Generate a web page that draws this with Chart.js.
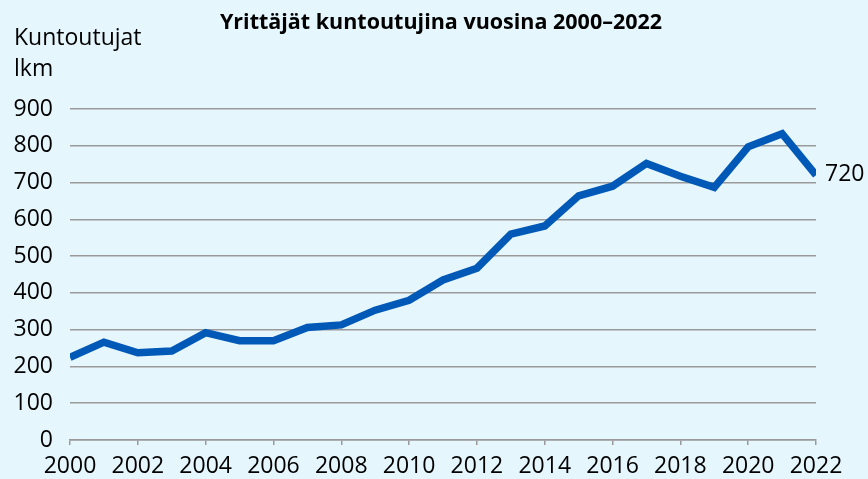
<!DOCTYPE html>
<html lang="fi">
<head>
<meta charset="utf-8">
<title>Yrittäjät kuntoutujina vuosina 2000–2022</title>
<script src="https://cdn.jsdelivr.net/npm/chart.js@4/dist/chart.umd.min.js"></script>
<style>
  html, body { margin: 0; padding: 0; background: #e6f6fd; }
  #wrap { width: 868px; height: 479px; position: relative; }
</style>
</head>
<body>
<div id="wrap"><canvas id="chart" width="868" height="479"></canvas></div>
<script>
// ─── DATA ─────────────────────────────────────────────────────
const years = [2000, 2001, 2002, 2003, 2004, 2005, 2006, 2007, 2008, 2009, 2010,
               2011, 2012, 2013, 2014, 2015, 2016, 2017, 2018, 2019, 2020, 2021, 2022];
const rehabCount = [225, 266, 237, 242, 292, 270, 270, 306, 313, 353, 380,
                    435, 467, 560, 582, 664, 690, 752, 717, 687, 797, 833, 720];
const yTicks = [0, 100, 200, 300, 400, 500, 600, 700, 800, 900];

const chartTitle = "Yrittäjät kuntoutujina vuosina 2000–2022";
const axisCaption = ["Kuntoutujat", "lkm"];

const FONT = "'Open Sans', Lato, sans-serif";

// ─── TEXT PLUGIN (title, axis caption, end label) ─────────────
const textPlugin = {
    id: "texts",
    afterDraw(chart) {
        const ctx = chart.ctx;
        ctx.save();
        ctx.fillStyle = "#000";
        ctx.textBaseline = "middle";

        ctx.font = "bold 21.5px " + FONT;
        ctx.textAlign = "center";
        ctx.fillText(chartTitle, 441, 23);

        ctx.font = "23px " + FONT;
        ctx.textAlign = "left";
        ctx.fillText(axisCaption[0], 14, 38);
        ctx.fillText(axisCaption[1], 14, 69);

        // last value next to the line end
        const meta = chart.getDatasetMeta(0);
        const last = meta.data[meta.data.length - 1];
        ctx.fillText(String(rehabCount[rehabCount.length - 1]), last.x + 9, last.y - 1);
        ctx.restore();
    }
};

// ─── CHART INIT ───────────────────────────────────────────────
const ctx = document.getElementById("chart").getContext("2d");
new Chart(ctx, {
    type: "line",
    data: {
        datasets: [{
            label: "Kuntoutujat",
            data: years.map((y, i) => ({ x: y, y: rehabCount[i] })),
            borderColor: "#0058b7",
            borderWidth: 7.5,
            pointRadius: 0,
            tension: 0,
            fill: false
        }]
    },
    options: {
        responsive: false,
        animation: false,
        layout: { padding: { top: 109, right: 52, bottom: 0, left: 0 } },
        plugins: {
            legend: { display: false },
            tooltip: { enabled: false }
        },
        scales: {
            x: {
                type: "linear",
                min: 2000,
                max: 2022,
                afterFit: s => { s.height = 39; },
                afterBuildTicks: s => { s.ticks = years.filter(y => y % 2 === 0).map(v => ({ value: v })); },
                ticks: {
                    color: "#000",
                    font: { family: FONT, size: 23 },
                    padding: 8,
                    maxRotation: 0,
                    autoSkip: false,
                    callback: v => String(v)
                },
                grid: {
                    drawOnChartArea: false,
                    drawTicks: true,
                    tickLength: 5,
                    color: "#9a9a9a",
                    lineWidth: 1.5
                },
                border: { display: true, color: "#9a9a9a", width: 1.5 }
            },
            y: {
                min: 0,
                max: 900,
                afterFit: s => { s.width = 70; },
                afterBuildTicks: s => { s.ticks = yTicks.map(v => ({ value: v })); },
                ticks: {
                    color: "#000",
                    font: { family: FONT, size: 23 },
                    padding: 17
                },
                grid: {
                    color: "#9a9a9a",
                    lineWidth: 1.5,
                    drawTicks: false
                },
                border: { display: false }
            }
        }
    },
    plugins: [textPlugin]
});
</script>
</body>
</html>
